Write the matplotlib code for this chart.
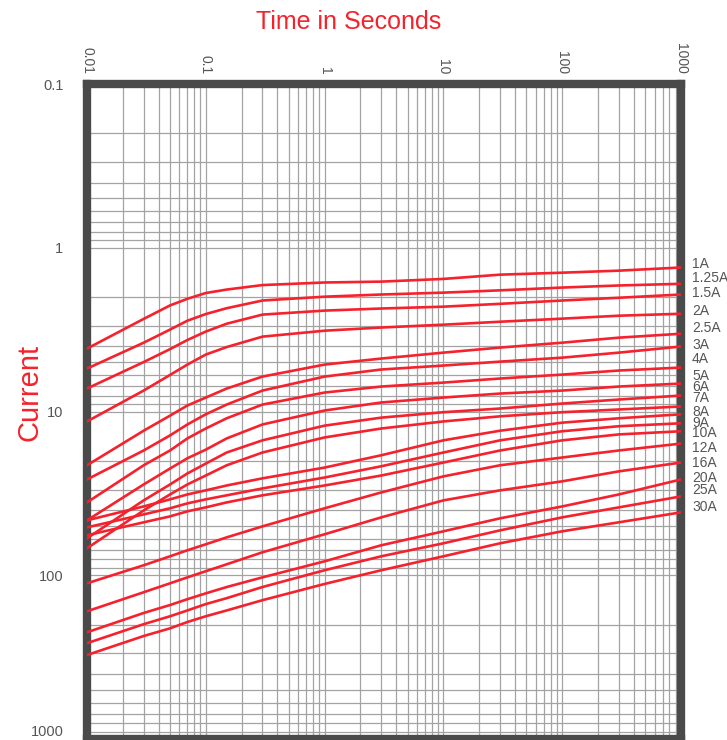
import matplotlib
matplotlib.use("Agg")
import matplotlib.pyplot as plt
from matplotlib.ticker import FixedLocator, FixedFormatter, LogLocator, NullFormatter

plt.rcParams['font.family'] = ['Liberation Sans', 'DejaVu Sans']

# ----------------------------
# Data
# ----------------------------
time_s = [0.01, 0.03, 0.05, 0.07, 0.1, 0.15, 0.3, 1, 3, 10, 30, 100, 300, 1000]

ratings = ["1A", "1.25A", "1.5A", "2A", "2.5A", "3A", "4A", "5A", "6A",
           "7A", "8A", "9A", "10A", "12A", "16A", "20A", "25A", "30A"]

cur_1A = [4.13, 2.72, 2.25, 2.05, 1.89, 1.80, 1.69, 1.63, 1.61, 1.55, 1.46, 1.42, 1.38, 1.32]
cur_1_25A = [5.47, 3.80, 3.16, 2.79, 2.54, 2.34, 2.10, 1.99, 1.93, 1.88, 1.82, 1.75, 1.70, 1.66]
cur_1_5A = [7.24, 4.99, 4.16, 3.66, 3.25, 2.91, 2.56, 2.42, 2.35, 2.29, 2.20, 2.10, 2.02, 1.93]
cur_2A = [11.5, 7.45, 5.98, 5.17, 4.49, 4.04, 3.49, 3.21, 3.07, 2.95, 2.83, 2.71, 2.60, 2.53]
cur_2_5A = [21.3, 13.1, 10.6, 9.19, 8.22, 7.24, 6.12, 5.17, 4.75, 4.37, 4.07, 3.80, 3.54, 3.35]
cur_3A = [26.0, 17.3, 14.0, 12.0, 10.4, 9.07, 7.45, 6.12, 5.54, 5.24, 4.96, 4.69, 4.37, 4.01]
cur_4A = [35.9, 21.3, 17.3, 14.6, 12.7, 11.0, 9.07, 7.66, 7.04, 6.66, 6.29, 5.95, 5.62, 5.39]
cur_5A = [46.2, 27.9, 22.3, 19.3, 17.1, 14.6, 12.0, 9.86, 8.81, 8.22, 7.77, 7.45, 7.04, 6.75]
cur_6A = [59.5, 34.9, 27.9, 23.9, 20.8, 17.8, 15.0, 12.2, 10.9, 10.1, 9.59, 8.94, 8.45, 7.99]
cur_7A = [68.4, 40.2, 32.1, 27.9, 24.6, 21.3, 17.8, 14.4, 12.7, 11.5, 10.7, 10.1, 9.72, 9.32]
cur_8A = [46.2, 38.0, 34.4, 32.1, 30.3, 28.3, 25.6, 22.0, 18.5, 15.0, 13.1, 11.7, 11.0, 10.4]
cur_9A = [51.0, 42.5, 39.0, 36.4, 34.4, 32.5, 29.5, 25.3, 21.6, 17.8, 15.0, 13.2, 12.3, 11.8]
cur_10A = [57.0, 47.5, 43.7, 40.7, 38.5, 35.9, 32.5, 28.3, 24.6, 20.5, 17.3, 15.0, 13.8, 13.2]
cur_12A = [112, 86.9, 76.6, 70.4, 64.7, 58.7, 50.3, 39.0, 31.2, 24.9, 21.3, 19.1, 17.3, 15.7]
cur_16A = [166, 127, 112, 103, 94.5, 85.7, 72.4, 56.2, 44.3, 34.9, 30.3, 26.7, 23.2, 20.5]
cur_20A = [223, 170, 152, 140, 129, 118, 103, 82.2, 65.6, 53.9, 44.9, 38.0, 32.1, 26.0]
cur_25A = [260, 199, 178, 164, 150, 138, 118, 93.2, 76.6, 63.8, 53.2, 44.3, 38.5, 33.0]
cur_30A = [307, 235, 211, 193, 178, 164, 142, 113, 93.2, 76.6, 63.8, 53.9, 47.5, 41.3]

curves = [cur_1A, cur_1_25A, cur_1_5A, cur_2A, cur_2_5A, cur_3A, cur_4A, cur_5A, cur_6A,
          cur_7A, cur_8A, cur_9A, cur_10A, cur_12A, cur_16A, cur_20A, cur_25A, cur_30A]

# where the rating labels sit on the current axis (right side)
label_y = [1.25, 1.52, 1.88, 2.42, 3.07, 3.90, 4.75, 6.03, 7.04, 8.22,
           10.0, 11.7, 13.6, 16.6, 20.5, 25.6, 30.3, 38.5]

x_ticks = [0.01, 0.1, 1, 10, 100, 1000]
x_tick_labels = ["0.01", "0.1", "1", "10", "100", "1000"]
y_ticks = [0.1, 1, 10, 100, 1000]
y_tick_labels = ["0.1", "1", "10", "100", "1000"]

# ----------------------------
# Plot
# ----------------------------
RED = "#f5222d"
FRAME = "#4a4a4a"
GRID = "#a3a3a3"
TXT = "#555555"

fig = plt.figure(figsize=(7.27, 7.40), dpi=100)
ax = fig.add_axes([87 / 727, 1 / 740, 594 / 727, 655 / 740])

for cur in curves:
    ax.plot(time_s, cur, color=RED, linewidth=1.9, solid_joinstyle="round", zorder=3)

ax.set_xscale("log")
ax.set_yscale("log")
ax.set_xlim(0.01, 1000)
ax.set_ylim(1000, 0.1)

ax.xaxis.set_major_locator(FixedLocator(x_ticks))
ax.xaxis.set_major_formatter(FixedFormatter(x_tick_labels))
ax.yaxis.set_major_locator(FixedLocator(y_ticks))
ax.yaxis.set_major_formatter(FixedFormatter(y_tick_labels))
ax.xaxis.set_minor_locator(LogLocator(base=10, subs=range(2, 10), numticks=20))
ax.yaxis.set_minor_locator(LogLocator(base=10, subs=range(2, 10), numticks=20))
ax.xaxis.set_minor_formatter(NullFormatter())
ax.yaxis.set_minor_formatter(NullFormatter())

ax.xaxis.tick_top()
ax.tick_params(which="both", length=0)
ax.tick_params(axis="x", pad=7, labelsize=10, labelcolor=TXT, labelrotation=-90)
ax.tick_params(axis="y", pad=17, labelsize=10.5, labelcolor=TXT)

# the bottom label sits just above the picture edge
fig.canvas.draw()
ax.get_yticklabels()[-1].set_va("bottom")

ax.grid(which="both", color=GRID, linewidth=0.9)
ax.set_axisbelow(True)

for sp in ax.spines.values():
    sp.set_color(FRAME)
    sp.set_linewidth(6)

for name, yv in zip(ratings, label_y):
    ax.annotate(name, xy=(1, yv), xycoords=("axes fraction", "data"),
                xytext=(8, 0), textcoords="offset points",
                va="center", ha="left", fontsize=10, color=TXT,
                annotation_clip=False)

fig.text(0.479, 0.970, "Time in Seconds", color=RED, fontsize=18,
         ha="center", va="center")
fig.text(0.040, 0.470, "Current", color=RED, fontsize=21, rotation=90,
         ha="center", va="center")

fig.savefig("out.png", dpi=100)
